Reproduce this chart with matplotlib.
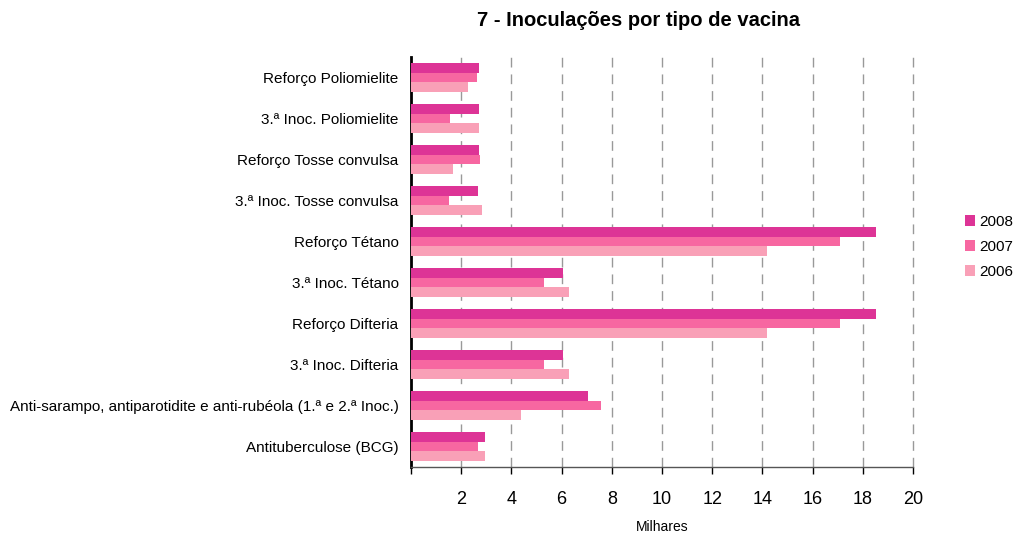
import matplotlib.pyplot as plt
import numpy as np

plt.rcParams['font.family'] = ['Liberation Sans', 'DejaVu Sans']

categories = [
    "Reforço Poliomielite",
    "3.ª Inoc. Poliomielite",
    "Reforço Tosse convulsa",
    "3.ª Inoc. Tosse convulsa",
    "Reforço Tétano",
    "3.ª Inoc. Tétano",
    "Reforço Difteria",
    "3.ª Inoc. Difteria",
    "Anti-sarampo, antiparotidite e anti-rubéola (1.ª e 2.ª Inoc.)",
    "Antituberculose (BCG)",
]
v2008 = [2.71, 2.71, 2.71, 2.67, 18.53, 6.06, 18.53, 6.06, 7.05, 2.95]
v2007 = [2.63, 1.55, 2.75, 1.51, 17.09, 5.30, 17.09, 5.30, 7.57, 2.67]
v2006 = [2.27, 2.71, 1.67, 2.83, 14.18, 6.29, 14.18, 6.29, 4.38, 2.95]
years = ["2008", "2007", "2006"]
colors = ["#DD3496", "#F767A1", "#F9A0B7"]
xticks = list(range(0, 21, 2))

fig = plt.figure(figsize=(10.15, 5.35), dpi=100)
ax = fig.add_axes([0.405, 0.127, 0.4945, 0.7665])

y = np.arange(len(categories))
h = 0.235
for i, (vals, lab, c) in enumerate(zip([v2008, v2007, v2006], years, colors)):
    ax.barh(y - h + i * h, vals, height=h, color=c, label=lab, zorder=3)

ax.set_ylim(len(categories) - 0.5, -0.5)
ax.set_xlim(0, 20)
ax.set_yticks(y)
ax.set_yticklabels(categories, fontsize=11)
ax.tick_params(axis='y', length=0, pad=9)
ax.set_xticks(xticks)
ax.set_xticklabels(["" if t == 0 else str(t) for t in xticks], fontsize=13)
ax.tick_params(axis='x', length=5, width=1, color='black', pad=12, direction='out')

for t in xticks[1:]:
    ax.axvline(t, color='#999999', linestyle=(0, (7, 5)), linewidth=1,
               zorder=1, clip_on=False)

for s in ['top', 'right']:
    ax.spines[s].set_visible(False)
ax.spines['left'].set_linewidth(2)
ax.spines['left'].set_color('black')
ax.spines['bottom'].set_color('#555555')
ax.spines['bottom'].set_linewidth(1)

ax.set_xlabel("Milhares", fontsize=10, labelpad=9)

fig.text(0.629, 0.962, "7 - Inoculações por tipo de vacina", fontsize=14.5,
         fontweight='bold', ha='center', va='center')

leg = ax.legend(loc='center left', bbox_to_anchor=(1.092, 0.537), frameon=False,
                fontsize=11, handlelength=0.65, handleheight=0.65,
                handletextpad=0.25, labelspacing=0.72, borderaxespad=0.0)

fig.savefig("out.png", dpi=100)
